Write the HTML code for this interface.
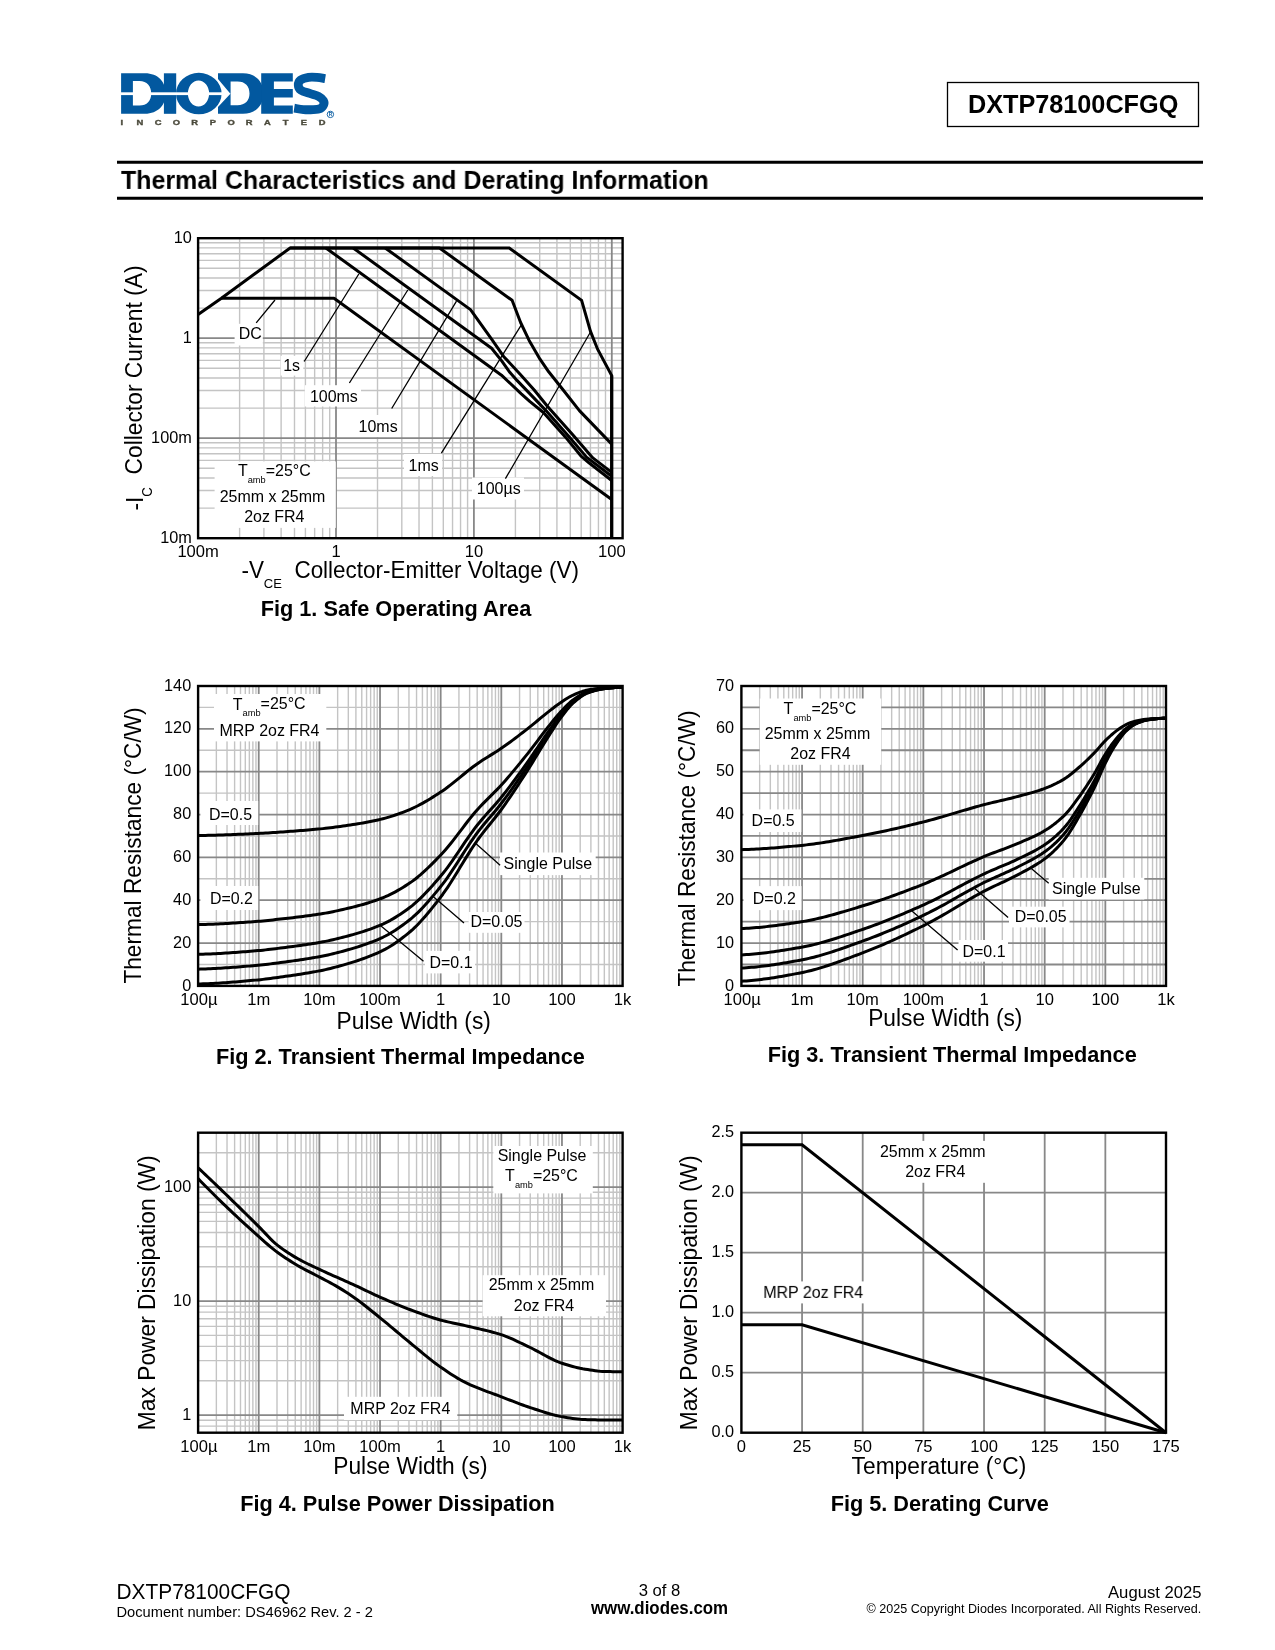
<!DOCTYPE html>
<html><head><meta charset="utf-8"><title>DXTP78100CFGQ</title>
<style>
html,body{margin:0;padding:0;background:#fff}
body{width:1275px;height:1650px;overflow:hidden}
svg{display:block;will-change:transform}
svg text{font-family:"Liberation Sans", sans-serif}
</style></head><body>
<svg width="1275" height="1650" viewBox="0 0 1275 1650">
<g id="header">
<rect x="947.5" y="82.5" width="251" height="44" fill="#fff" stroke="#000" stroke-width="1.3"/>
<text font-size="26.31" text-anchor="middle" font-weight="bold" transform="translate(1073.1 112.9) scale(0.96 1)">DXTP78100CFGQ</text>
<path d="M117 162.35H1203" stroke="#000" stroke-width="3"/>
<path d="M117 198.35H1203" stroke="#000" stroke-width="3"/>
<text font-size="26" font-weight="bold" transform="translate(121 188.9) scale(0.96 1)">Thermal Characteristics and Derating Information</text>
<text font-size="21.74" transform="translate(116.5 1599) scale(0.96 1)">DXTP78100CFGQ</text>
<text font-size="15.29" transform="translate(116.5 1616.7) scale(0.96 1)">Document number: DS46962 Rev. 2 - 2</text>
<text font-size="17.37" text-anchor="middle" transform="translate(659.5 1596) scale(0.96 1)">3 of 8</text>
<text font-size="17.58" text-anchor="middle" font-weight="bold" transform="translate(659.5 1613.7) scale(0.96 1)">www.diodes.com</text>
<text font-size="17.37" text-anchor="end" transform="translate(1201.6 1597.8) scale(0.96 1)">August 2025</text>
<text font-size="13.1" text-anchor="end" transform="translate(1201.3 1612.8) scale(0.96 1)">© 2025 Copyright Diodes Incorporated. All Rights Reserved.</text>
</g>
<g id="logo">
<path d="M121.1 73.3 H145 C158 73.3 165.8 82 165.8 93.55 C165.8 105 158 113.8 145 113.8 H121.1Z M132.9 81 H139.5 C147 81 151.2 86 151.2 93.55 C151.2 101 147 105.6 139.5 105.6 H132.9Z" fill="#02589f" fill-rule="evenodd"/>
<rect x="163.9" y="73.3" width="12.3" height="40.5" fill="#02589f"/>
<path d="M218 73.3 H243 C256 73.3 263.5 82 263.5 93.55 C263.5 105 256 113.8 243 113.8 H218 V106.9 L230.4 93.7 L218 79.1Z M230.6 81.5 H237.5 C245.3 81.5 249.5 86.3 249.5 93.55 C249.5 100.6 245.3 105.2 237.5 105.2 H230.6Z" fill="#02589f" fill-rule="evenodd"/>
<path d="M176 93.55 A22.8 20.7 0 1 0 221.6 93.55 A22.8 20.7 0 1 0 176 93.55 Z M187.9 93.55 A10.6 13 0 1 0 209.1 93.55 A10.6 13 0 1 0 187.9 93.55 Z" fill="#02589f" fill-rule="evenodd"/>
<path d="M261.2 73.3 H292.8 V81.6 H273.9 V89 H292.8 V97.5 H273.9 V105.5 H292.8 V113.8 H261.2Z" fill="#02589f"/>
<path d="M325.2 78.6C323.83 78.38 319.78 77.52 317 77.3C314.22 77.08 311.23 76.83 308.5 77.3C305.77 77.77 302.3 78.78 300.6 80.1C298.9 81.42 298.23 83.52 298.3 85.2C298.37 86.88 299.1 88.83 301 90.2C302.9 91.57 306.78 92.38 309.7 93.4C312.62 94.42 316.22 95.1 318.5 96.3C320.78 97.5 322.52 99.22 323.4 100.6C324.28 101.98 324.28 103.3 323.8 104.6C323.32 105.9 322.3 107.57 320.5 108.4C318.7 109.23 315.83 109.4 313 109.6C310.17 109.8 306.63 109.83 303.5 109.6C300.37 109.37 295.75 108.43 294.2 108.2" fill="none" stroke="#02589f" stroke-width="8.8"/>
<rect x="120.5" y="92.3" width="103.5" height="2.8" fill="#fff"/>
<circle cx="330.4" cy="114.4" r="3.2" fill="none" stroke="#02589f" stroke-width="0.9"/>
<text font-size="4.99" text-anchor="middle" font-weight="bold" fill="#02589f" transform="translate(330.4 116.2) scale(0.96 1)">R</text>
<text transform="translate(121.7 124.7) scale(1.25 1)" font-size="7.5" font-weight="bold" text-anchor="middle" fill="#4b4a3c" stroke="#4b4a3c" stroke-width="0.35">I</text>
<text transform="translate(139.92 124.7) scale(1.25 1)" font-size="7.5" font-weight="bold" text-anchor="middle" fill="#4b4a3c" stroke="#4b4a3c" stroke-width="0.35">N</text>
<text transform="translate(158.14 124.7) scale(1.25 1)" font-size="7.5" font-weight="bold" text-anchor="middle" fill="#4b4a3c" stroke="#4b4a3c" stroke-width="0.35">C</text>
<text transform="translate(176.36 124.7) scale(1.25 1)" font-size="7.5" font-weight="bold" text-anchor="middle" fill="#4b4a3c" stroke="#4b4a3c" stroke-width="0.35">O</text>
<text transform="translate(194.58 124.7) scale(1.25 1)" font-size="7.5" font-weight="bold" text-anchor="middle" fill="#4b4a3c" stroke="#4b4a3c" stroke-width="0.35">R</text>
<text transform="translate(212.8 124.7) scale(1.25 1)" font-size="7.5" font-weight="bold" text-anchor="middle" fill="#4b4a3c" stroke="#4b4a3c" stroke-width="0.35">P</text>
<text transform="translate(231.02 124.7) scale(1.25 1)" font-size="7.5" font-weight="bold" text-anchor="middle" fill="#4b4a3c" stroke="#4b4a3c" stroke-width="0.35">O</text>
<text transform="translate(249.24 124.7) scale(1.25 1)" font-size="7.5" font-weight="bold" text-anchor="middle" fill="#4b4a3c" stroke="#4b4a3c" stroke-width="0.35">R</text>
<text transform="translate(267.46 124.7) scale(1.25 1)" font-size="7.5" font-weight="bold" text-anchor="middle" fill="#4b4a3c" stroke="#4b4a3c" stroke-width="0.35">A</text>
<text transform="translate(285.68 124.7) scale(1.25 1)" font-size="7.5" font-weight="bold" text-anchor="middle" fill="#4b4a3c" stroke="#4b4a3c" stroke-width="0.35">T</text>
<text transform="translate(303.9 124.7) scale(1.25 1)" font-size="7.5" font-weight="bold" text-anchor="middle" fill="#4b4a3c" stroke="#4b4a3c" stroke-width="0.35">E</text>
<text transform="translate(322.12 124.7) scale(1.25 1)" font-size="7.5" font-weight="bold" text-anchor="middle" fill="#4b4a3c" stroke="#4b4a3c" stroke-width="0.35">D</text>
</g>
<g id="fig1">
<path d="M239.61 238.2L239.61 538.2M263.9 238.2L263.9 538.2M281.12 238.2L281.12 538.2M294.49 238.2L294.49 538.2M305.41 238.2L305.41 538.2M314.64 238.2L314.64 538.2M322.64 238.2L322.64 538.2M329.69 238.2L329.69 538.2M377.51 238.2L377.51 538.2M401.8 238.2L401.8 538.2M419.02 238.2L419.02 538.2M432.39 238.2L432.39 538.2M443.31 238.2L443.31 538.2M452.54 238.2L452.54 538.2M460.54 238.2L460.54 538.2M467.59 238.2L467.59 538.2M515.41 238.2L515.41 538.2M539.7 238.2L539.7 538.2M556.92 238.2L556.92 538.2M570.29 238.2L570.29 538.2M581.21 238.2L581.21 538.2M590.44 238.2L590.44 538.2M598.44 238.2L598.44 538.2M605.49 238.2L605.49 538.2M198.1 508.1L622.6 508.1M198.1 490.49L622.6 490.49M198.1 477.99L622.6 477.99M198.1 468.3L622.6 468.3M198.1 460.38L622.6 460.38M198.1 453.69L622.6 453.69M198.1 447.89L622.6 447.89M198.1 442.78L622.6 442.78M198.1 408.1L622.6 408.1M198.1 390.49L622.6 390.49M198.1 377.99L622.6 377.99M198.1 368.3L622.6 368.3M198.1 360.38L622.6 360.38M198.1 353.69L622.6 353.69M198.1 347.89L622.6 347.89M198.1 342.78L622.6 342.78M198.1 308.1L622.6 308.1M198.1 290.49L622.6 290.49M198.1 277.99L622.6 277.99M198.1 268.3L622.6 268.3M198.1 260.38L622.6 260.38M198.1 253.69L622.6 253.69M198.1 247.89L622.6 247.89M198.1 242.78L622.6 242.78" stroke="#c4c4c4" stroke-width="1.4" fill="none"/>
<path d="M336 238.2L336 538.2M473.9 238.2L473.9 538.2M611.8 238.2L611.8 538.2M198.1 438.2L622.6 438.2M198.1 338.2L622.6 338.2" stroke="#888888" stroke-width="1.8" fill="none"/>
<rect x="234.6" y="323.8" width="28.2" height="21.7" fill="#fff"/>
<rect x="280.7" y="355.8" width="22.6" height="19.8" fill="#fff"/>
<rect x="304.8" y="385.2" width="56.2" height="21.3" fill="#fff"/>
<rect x="354" y="415" width="47" height="22" fill="#fff"/>
<rect x="404" y="454" width="38" height="22" fill="#fff"/>
<rect x="472" y="477.5" width="52" height="22" fill="#fff"/>
<rect x="214.6" y="461.4" width="121.2" height="66.5" fill="#fff"/>
<path d="M275 300L256.2 322.9M358.8 274L304.2 361.5M407.8 290L349.4 383M456.5 301.2L391.7 408.5M522 323.8L441.4 453.1M590.5 332L505.4 478.7" stroke="#000" stroke-width="1.3" fill="none"/>
<path d="M221.4 298.2L334 298.2L611.7 499.43" stroke="#000" stroke-width="3" fill="none" stroke-linejoin="round" stroke-linecap="butt"/>
<path d="M325.9 248L501.5 375.2L521.3 393.8L530 401.6L543.4 412.5L565.3 436.9L580.8 455.8L588.6 462.5L611.7 480.5" stroke="#000" stroke-width="3" fill="none" stroke-linejoin="round" stroke-linecap="butt"/>
<path d="M353.2 248L491.6 348.3L501.5 360.6L510 372.6L517 380.4L530 393.9L545.5 410.1L569.5 437.2L586.5 457.1L611.7 476.2" stroke="#000" stroke-width="3" fill="none" stroke-linejoin="round" stroke-linecap="butt"/>
<path d="M385.2 248L470.5 309.6L492.3 340.2L503.6 356.4L520.6 374.7L534.2 390L547.6 406.5L572.3 434.3L592.8 457.9L611.7 472.4" stroke="#000" stroke-width="3" fill="none" stroke-linejoin="round" stroke-linecap="butt"/>
<path d="M290.1 248L439.5 248L512.1 300.3L520.6 322.5L529 340.2L540 359.2L548.7 371.8L563.2 390L579.4 410.6L611.7 444.1" stroke="#000" stroke-width="3" fill="none" stroke-linejoin="round" stroke-linecap="butt"/>
<path d="M198.1 314.4L221.4 298.2L290.1 248L509.2 248L581.6 300.3L590.5 331.4L597.6 349.2L611.7 375.6L611.7 538.2" stroke="#000" stroke-width="3" fill="none" stroke-linejoin="miter" stroke-linecap="butt"/>
<path d="M611.7 375.6L611.7 538.2" stroke="#000" stroke-width="3" fill="none" stroke-linejoin="round" stroke-linecap="butt"/>
<rect x="198.1" y="238.2" width="424.5" height="300" fill="none" stroke="#000" stroke-width="2.4"/>
<text font-size="16.64" transform="translate(238.7 339.4) scale(0.96 1)">DC</text>
<text font-size="16.64" transform="translate(283.2 371.4) scale(0.96 1)">1s</text>
<text font-size="16.64" transform="translate(309.9 402.1) scale(0.96 1)">100ms</text>
<text font-size="16.64" transform="translate(358.6 431.8) scale(0.96 1)">10ms</text>
<text font-size="16.64" transform="translate(408.6 470.7) scale(0.96 1)">1ms</text>
<text font-size="16.64" transform="translate(476.8 494) scale(0.96 1)">100µs</text>
<text font-size="16.64" text-anchor="middle" transform="translate(274.3 476.2) scale(0.96 1)">T<tspan font-size="58%" dy="0.72em">amb</tspan><tspan dy="-0.42em">=25°C</tspan></text>
<text font-size="16.64" text-anchor="middle" transform="translate(272.5 501.7) scale(0.96 1)">25mm x 25mm</text>
<text font-size="16.64" text-anchor="middle" transform="translate(274.3 521.6) scale(0.96 1)">2oz FR4</text>
<text font-size="16.95" text-anchor="end" transform="translate(191.8 242.5) scale(0.96 1)">10</text>
<text font-size="16.95" text-anchor="end" transform="translate(191.8 342.5) scale(0.96 1)">1</text>
<text font-size="16.95" text-anchor="end" transform="translate(191.8 442.5) scale(0.96 1)">100m</text>
<text font-size="16.95" text-anchor="end" transform="translate(191.8 542.5) scale(0.96 1)">10m</text>
<text font-size="17.26" text-anchor="middle" transform="translate(198.1 557.3) scale(0.96 1)">100m</text>
<text font-size="17.26" text-anchor="middle" transform="translate(336 557.3) scale(0.96 1)">1</text>
<text font-size="17.26" text-anchor="middle" transform="translate(473.9 557.3) scale(0.96 1)">10</text>
<text font-size="17.26" text-anchor="middle" transform="translate(611.8 557.3) scale(0.96 1)">100</text>
<text font-size="23.4" transform="translate(241.4 577.8) scale(0.96 1)" xml:space="preserve">-V<tspan font-size="58%" dy="0.72em">CE</tspan><tspan dy="-0.42em">  Collector-Emitter Voltage (V)</tspan></text>
<text font-size="22.8" transform="translate(142.5 510.6) scale(1.04 1) rotate(-90)" xml:space="preserve">-I<tspan font-size="58%" dy="0.72em">C</tspan><tspan dy="-0.42em">  Collector Current (A)</tspan></text>
<text font-size="22.62" text-anchor="middle" font-weight="bold" transform="translate(396 616.3) scale(0.96 1)">Fig 1. Safe Operating Area</text>
</g>
<g id="fig2">
<path d="M216.36 686L216.36 985.9M227.03 686L227.03 985.9M234.61 686L234.61 985.9M240.49 686L240.49 985.9M245.29 686L245.29 985.9M249.35 686L249.35 985.9M252.87 686L252.87 985.9M255.97 686L255.97 985.9M277 686L277 985.9M287.68 686L287.68 985.9M295.25 686L295.25 985.9M301.13 686L301.13 985.9M305.93 686L305.93 985.9M309.99 686L309.99 985.9M313.51 686L313.51 985.9M316.61 686L316.61 985.9M337.64 686L337.64 985.9M348.32 686L348.32 985.9M355.9 686L355.9 985.9M361.77 686L361.77 985.9M366.58 686L366.58 985.9M370.63 686L370.63 985.9M374.15 686L374.15 985.9M377.25 686L377.25 985.9M398.28 686L398.28 985.9M408.96 686L408.96 985.9M416.54 686L416.54 985.9M422.42 686L422.42 985.9M427.22 686L427.22 985.9M431.28 686L431.28 985.9M434.79 686L434.79 985.9M437.9 686L437.9 985.9M458.93 686L458.93 985.9M469.61 686L469.61 985.9M477.18 686L477.18 985.9M483.06 686L483.06 985.9M487.86 686L487.86 985.9M491.92 686L491.92 985.9M495.44 686L495.44 985.9M498.54 686L498.54 985.9M519.57 686L519.57 985.9M530.25 686L530.25 985.9M537.82 686L537.82 985.9M543.7 686L543.7 985.9M548.5 686L548.5 985.9M552.56 686L552.56 985.9M556.08 686L556.08 985.9M559.18 686L559.18 985.9M580.21 686L580.21 985.9M590.89 686L590.89 985.9M598.47 686L598.47 985.9M604.34 686L604.34 985.9M609.15 686L609.15 985.9M613.21 686L613.21 985.9M616.72 686L616.72 985.9M619.83 686L619.83 985.9M198.1 964.48L622.6 964.48M198.1 921.64L622.6 921.64M198.1 878.79L622.6 878.79M198.1 835.95L622.6 835.95M198.1 793.11L622.6 793.11M198.1 750.26L622.6 750.26M198.1 707.42L622.6 707.42" stroke="#c4c4c4" stroke-width="1.4" fill="none"/>
<path d="M258.74 686L258.74 985.9M319.39 686L319.39 985.9M380.03 686L380.03 985.9M440.67 686L440.67 985.9M501.31 686L501.31 985.9M561.96 686L561.96 985.9M198.1 943.06L622.6 943.06M198.1 900.21L622.6 900.21M198.1 857.37L622.6 857.37M198.1 814.53L622.6 814.53M198.1 771.69L622.6 771.69M198.1 728.84L622.6 728.84" stroke="#888888" stroke-width="1.8" fill="none"/>
<rect x="214" y="694" width="112.3" height="47.4" fill="#fff"/>
<rect x="200.4" y="801" width="57.8" height="24" fill="#fff"/>
<rect x="200.4" y="886" width="57.8" height="24" fill="#fff"/>
<rect x="500" y="852.5" width="95.7" height="22.6" fill="#fff"/>
<rect x="468.6" y="912" width="55.9" height="20.8" fill="#fff"/>
<rect x="425" y="950.9" width="50" height="22.5" fill="#fff"/>
<path d="M475.8 843.5L500.1 865.2M433.4 896.8L464 922.9M380.7 925.8L423.5 961.3" stroke="#000" stroke-width="1.3" fill="none"/>
<path d="M198.1 984L200.6 983.93L203.09 983.85L205.59 983.75L208.09 983.65L210.59 983.53L213.08 983.41L215.58 983.27L218.08 983.13L220.57 982.97L223.07 982.81L225.57 982.64L228.06 982.46L230.56 982.27L233.06 982.08L235.56 981.88L238.05 981.68L240.55 981.47L243.05 981.25L245.54 981.03L248.04 980.81L250.54 980.58L253.04 980.36L255.53 980.12L258.03 979.89L260.53 979.65L263.02 979.38L265.52 979.08L268.02 978.77L270.51 978.44L273.01 978.09L275.51 977.75L278.01 977.4L280.5 977.06L283 976.71L285.5 976.36L287.99 976.01L290.49 975.65L292.99 975.28L295.49 974.91L297.98 974.54L300.48 974.15L302.98 973.76L305.47 973.35L307.97 972.94L310.47 972.51L312.96 972.07L315.46 971.62L317.96 971.15L320.46 970.67L322.95 970.16L325.45 969.62L327.95 969.05L330.44 968.44L332.94 967.81L335.44 967.15L337.94 966.47L340.43 965.78L342.93 965.08L345.43 964.37L347.92 963.64L350.42 962.89L352.92 962.12L355.41 961.32L357.91 960.5L360.41 959.66L362.91 958.79L365.4 957.88L367.9 956.94L370.4 955.97L372.89 954.95L375.39 953.9L377.89 952.8L380.39 951.66L382.88 950.44L385.38 949.13L387.88 947.73L390.37 946.23L392.87 944.65L395.37 942.99L397.86 941.25L400.36 939.44L402.86 937.55L405.36 935.6L407.85 933.58L410.35 931.5L412.85 929.3L415.34 926.94L417.84 924.45L420.34 921.82L422.84 919.07L425.33 916.22L427.83 913.27L430.33 910.25L432.82 907.15L435.32 904L437.82 900.8L440.31 897.57L442.81 894.24L445.31 890.72L447.81 887.04L450.3 883.22L452.8 879.28L455.3 875.26L457.79 871.18L460.29 867.08L462.79 862.97L465.29 858.88L467.78 854.85L470.28 850.89L472.78 847.04L475.27 843.32L477.77 839.76L480.27 836.37L482.76 833.1L485.26 829.92L487.76 826.8L490.26 823.72L492.75 820.62L495.25 817.49L497.75 814.29L500.24 810.98L502.74 807.54L505.24 804.03L507.74 800.44L510.23 796.8L512.73 793.11L515.23 789.37L517.72 785.59L520.22 781.78L522.72 777.94L525.21 774.08L527.71 770.19L530.21 766.22L532.71 762.16L535.2 758.06L537.7 753.93L540.2 749.8L542.69 745.69L545.19 741.63L547.69 737.64L550.19 733.75L552.68 729.87L555.18 726.03L557.68 722.28L560.17 718.7L562.67 715.35L565.17 712.08L567.66 708.93L570.16 706.03L572.66 703.49L575.16 701.29L577.65 699.2L580.15 697.26L582.65 695.54L585.14 694.1L587.64 692.98L590.14 692.09L592.64 691.28L595.13 690.55L597.63 689.91L600.13 689.37L602.62 688.92L605.12 688.57L607.62 688.29L610.11 688.03L612.61 687.8L615.11 687.6L617.61 687.44L620.1 687.34L622.6 687.3" stroke="#000" stroke-width="3" fill="none" stroke-linejoin="round" stroke-linecap="butt"/>
<path d="M198.1 969.15L200.6 969.09L203.09 969.01L205.59 968.92L208.09 968.82L210.59 968.71L213.08 968.59L215.58 968.46L218.08 968.32L220.57 968.18L223.07 968.02L225.57 967.86L228.06 967.69L230.56 967.51L233.06 967.33L235.56 967.14L238.05 966.95L240.55 966.75L243.05 966.54L245.54 966.34L248.04 966.12L250.54 965.91L253.04 965.69L255.53 965.47L258.03 965.25L260.53 965.02L263.02 964.76L265.52 964.48L268.02 964.18L270.51 963.87L273.01 963.54L275.51 963.21L278.01 962.89L280.5 962.56L283 962.23L285.5 961.9L287.99 961.56L290.49 961.22L292.99 960.87L295.49 960.52L297.98 960.16L300.48 959.8L302.98 959.42L305.47 959.04L307.97 958.64L310.47 958.24L312.96 957.82L315.46 957.39L317.96 956.95L320.46 956.49L322.95 956.01L325.45 955.49L327.95 954.95L330.44 954.37L332.94 953.77L335.44 953.15L337.94 952.5L340.43 951.85L342.93 951.18L345.43 950.5L347.92 949.81L350.42 949.09L352.92 948.36L355.41 947.61L357.91 946.83L360.41 946.03L362.91 945.2L365.4 944.34L367.9 943.45L370.4 942.52L372.89 941.56L375.39 940.56L377.89 939.51L380.39 938.43L382.88 937.28L385.38 936.03L387.88 934.7L390.37 933.28L392.87 931.78L395.37 930.2L397.86 928.54L400.36 926.82L402.86 925.03L405.36 923.17L407.85 921.26L410.35 919.28L412.85 917.19L415.34 914.95L417.84 912.58L420.34 910.08L422.84 907.47L425.33 904.76L427.83 901.96L430.33 899.09L432.82 896.15L435.32 893.15L437.82 890.12L440.31 887.05L442.81 883.88L445.31 880.54L447.81 877.04L450.3 873.41L452.8 869.67L455.3 865.85L457.79 861.98L460.29 858.08L462.79 854.17L465.29 850.29L467.78 846.46L470.28 842.7L472.78 839.04L475.27 835.51L477.77 832.13L480.27 828.9L482.76 825.79L485.26 822.78L487.76 819.82L490.26 816.88L492.75 813.95L495.25 810.97L497.75 807.93L500.24 804.78L502.74 801.52L505.24 798.18L507.74 794.78L510.23 791.32L512.73 787.81L515.23 784.26L517.72 780.67L520.22 777.04L522.72 773.4L525.21 769.73L527.71 766.04L530.21 762.26L532.71 758.41L535.2 754.51L537.7 750.58L540.2 746.66L542.69 742.76L545.19 738.9L547.69 735.11L550.19 731.42L552.68 727.73L555.18 724.08L557.68 720.52L560.17 717.12L562.67 713.94L565.17 710.83L567.66 707.84L570.16 705.08L572.66 702.67L575.16 700.58L577.65 698.59L580.15 696.75L582.65 695.12L585.14 693.74L587.64 692.69L590.14 691.84L592.64 691.07L595.13 690.38L597.63 689.77L600.13 689.25L602.62 688.82L605.12 688.49L607.62 688.23L610.11 687.98L612.61 687.76L615.11 687.57L617.61 687.42L620.1 687.32L622.6 687.29" stroke="#000" stroke-width="3" fill="none" stroke-linejoin="round" stroke-linecap="butt"/>
<path d="M198.1 954.31L200.6 954.24L203.09 954.17L205.59 954.09L208.09 953.99L210.59 953.89L213.08 953.77L215.58 953.65L218.08 953.52L220.57 953.38L223.07 953.23L225.57 953.08L228.06 952.92L230.56 952.75L233.06 952.58L235.56 952.4L238.05 952.22L240.55 952.03L243.05 951.83L245.54 951.64L248.04 951.44L250.54 951.23L253.04 951.03L255.53 950.82L258.03 950.61L260.53 950.39L263.02 950.15L265.52 949.88L268.02 949.6L270.51 949.3L273.01 948.99L275.51 948.68L278.01 948.37L280.5 948.06L283 947.75L285.5 947.43L287.99 947.11L290.49 946.79L292.99 946.46L295.49 946.13L297.98 945.79L300.48 945.44L302.98 945.09L305.47 944.72L307.97 944.35L310.47 943.97L312.96 943.57L315.46 943.16L317.96 942.75L320.46 942.31L322.95 941.85L325.45 941.36L327.95 940.85L330.44 940.3L332.94 939.74L335.44 939.14L337.94 938.53L340.43 937.91L342.93 937.28L345.43 936.64L347.92 935.98L350.42 935.3L352.92 934.61L355.41 933.9L357.91 933.16L360.41 932.4L362.91 931.61L365.4 930.8L367.9 929.95L370.4 929.08L372.89 928.16L375.39 927.22L377.89 926.23L380.39 925.2L382.88 924.11L385.38 922.93L387.88 921.66L390.37 920.32L392.87 918.9L395.37 917.4L397.86 915.84L400.36 914.2L402.86 912.51L405.36 910.75L407.85 908.93L410.35 907.06L412.85 905.08L415.34 902.96L417.84 900.71L420.34 898.34L422.84 895.87L425.33 893.3L427.83 890.65L430.33 887.93L432.82 885.14L435.32 882.31L437.82 879.43L440.31 876.52L442.81 873.53L445.31 870.36L447.81 867.04L450.3 863.6L452.8 860.06L455.3 856.44L457.79 852.77L460.29 849.08L462.79 845.38L465.29 841.7L467.78 838.07L470.28 834.51L472.78 831.04L475.27 827.7L477.77 824.49L480.27 821.44L482.76 818.49L485.26 815.63L487.76 812.83L490.26 810.05L492.75 807.27L495.25 804.45L497.75 801.56L500.24 798.59L502.74 795.49L505.24 792.33L507.74 789.11L510.23 785.83L512.73 782.51L515.23 779.14L517.72 775.74L520.22 772.31L522.72 768.85L525.21 765.38L527.71 761.88L530.21 758.3L532.71 754.65L535.2 750.96L537.7 747.24L540.2 743.52L542.69 739.83L545.19 736.17L547.69 732.58L550.19 729.08L552.68 725.59L555.18 722.13L557.68 718.76L560.17 715.54L562.67 712.52L565.17 709.58L567.66 706.75L570.16 704.13L572.66 701.85L575.16 699.87L577.65 697.99L580.15 696.24L582.65 694.69L585.14 693.39L587.64 692.39L590.14 691.59L592.64 690.86L595.13 690.21L597.63 689.63L600.13 689.14L602.62 688.73L605.12 688.42L607.62 688.17L610.11 687.94L612.61 687.72L615.11 687.54L617.61 687.4L620.1 687.31L622.6 687.28" stroke="#000" stroke-width="3" fill="none" stroke-linejoin="round" stroke-linecap="butt"/>
<path d="M198.1 924.61L200.6 924.56L203.09 924.49L205.59 924.42L208.09 924.33L210.59 924.24L213.08 924.14L215.58 924.03L218.08 923.91L220.57 923.79L223.07 923.66L225.57 923.52L228.06 923.38L230.56 923.23L233.06 923.08L235.56 922.92L238.05 922.76L240.55 922.59L243.05 922.42L245.54 922.24L248.04 922.06L250.54 921.88L253.04 921.7L255.53 921.51L258.03 921.33L260.53 921.13L263.02 920.92L265.52 920.68L268.02 920.43L270.51 920.16L273.01 919.89L275.51 919.61L278.01 919.34L280.5 919.06L283 918.78L285.5 918.5L287.99 918.22L290.49 917.93L292.99 917.64L295.49 917.35L297.98 917.04L300.48 916.74L302.98 916.42L305.47 916.1L307.97 915.76L310.47 915.42L312.96 915.07L315.46 914.71L317.96 914.34L320.46 913.95L322.95 913.54L325.45 913.11L327.95 912.65L330.44 912.17L332.94 911.66L335.44 911.14L337.94 910.59L340.43 910.04L342.93 909.48L345.43 908.91L347.92 908.32L350.42 907.72L352.92 907.11L355.41 906.47L357.91 905.82L360.41 905.14L362.91 904.44L365.4 903.72L367.9 902.97L370.4 902.19L372.89 901.38L375.39 900.53L377.89 899.66L380.39 898.74L382.88 897.77L385.38 896.72L387.88 895.6L390.37 894.4L392.87 893.14L395.37 891.81L397.86 890.42L400.36 888.97L402.86 887.46L405.36 885.89L407.85 884.28L410.35 882.62L412.85 880.86L415.34 878.97L417.84 876.97L420.34 874.87L422.84 872.67L425.33 870.39L427.83 868.03L430.33 865.61L432.82 863.14L435.32 860.61L437.82 858.06L440.31 855.47L442.81 852.81L445.31 849.99L447.81 847.05L450.3 843.99L452.8 840.84L455.3 837.62L457.79 834.36L460.29 831.08L462.79 827.79L465.29 824.52L467.78 821.29L470.28 818.13L472.78 815.05L475.27 812.07L477.77 809.22L480.27 806.51L482.76 803.89L485.26 801.35L487.76 798.86L490.26 796.39L492.75 793.91L495.25 791.41L497.75 788.84L500.24 786.2L502.74 783.45L505.24 780.63L507.74 777.77L510.23 774.86L512.73 771.9L515.23 768.91L517.72 765.89L520.22 762.84L522.72 759.77L525.21 756.68L527.71 753.57L530.21 750.39L532.71 747.14L535.2 743.86L537.7 740.56L540.2 737.25L542.69 733.96L545.19 730.72L547.69 727.53L550.19 724.41L552.68 721.31L555.18 718.23L557.68 715.24L560.17 712.38L562.67 709.7L565.17 707.08L567.66 704.56L570.16 702.24L572.66 700.21L575.16 698.45L577.65 696.77L580.15 695.22L582.65 693.85L585.14 692.69L587.64 691.8L590.14 691.09L592.64 690.44L595.13 689.86L597.63 689.35L600.13 688.91L602.62 688.55L605.12 688.27L607.62 688.05L610.11 687.84L612.61 687.65L615.11 687.49L617.61 687.36L620.1 687.28L622.6 687.25" stroke="#000" stroke-width="3" fill="none" stroke-linejoin="round" stroke-linecap="butt"/>
<path d="M198.1 835.54L200.6 835.5L203.09 835.46L205.59 835.41L208.09 835.36L210.59 835.3L213.08 835.24L215.58 835.17L218.08 835.1L220.57 835.02L223.07 834.94L225.57 834.85L228.06 834.76L230.56 834.67L233.06 834.58L235.56 834.48L238.05 834.37L240.55 834.27L243.05 834.16L245.54 834.05L248.04 833.94L250.54 833.83L253.04 833.71L255.53 833.6L258.03 833.48L260.53 833.36L263.02 833.23L265.52 833.08L268.02 832.92L270.51 832.75L273.01 832.58L275.51 832.41L278.01 832.24L280.5 832.06L283 831.89L285.5 831.72L287.99 831.54L290.49 831.36L292.99 831.18L295.49 830.99L297.98 830.8L300.48 830.61L302.98 830.41L305.47 830.21L307.97 830L310.47 829.79L312.96 829.57L315.46 829.35L317.96 829.11L320.46 828.87L322.95 828.62L325.45 828.34L327.95 828.06L330.44 827.76L332.94 827.44L335.44 827.11L337.94 826.77L340.43 826.43L342.93 826.08L345.43 825.72L347.92 825.35L350.42 824.98L352.92 824.59L355.41 824.2L357.91 823.79L360.41 823.37L362.91 822.93L365.4 822.48L367.9 822.01L370.4 821.52L372.89 821.01L375.39 820.48L377.89 819.94L380.39 819.37L382.88 818.76L385.38 818.1L387.88 817.4L390.37 816.65L392.87 815.86L395.37 815.03L397.86 814.16L400.36 813.26L402.86 812.31L405.36 811.34L407.85 810.33L410.35 809.29L412.85 808.19L415.34 807.01L417.84 805.76L420.34 804.44L422.84 803.07L425.33 801.65L427.83 800.17L430.33 798.66L432.82 797.11L435.32 795.54L437.82 793.94L440.31 792.32L442.81 790.66L445.31 788.9L447.81 787.06L450.3 785.14L452.8 783.18L455.3 781.17L457.79 779.13L460.29 777.07L462.79 775.02L465.29 772.98L467.78 770.96L470.28 768.98L472.78 767.06L475.27 765.2L477.77 763.42L480.27 761.72L482.76 760.08L485.26 758.5L487.76 756.94L490.26 755.39L492.75 753.85L495.25 752.28L497.75 750.68L500.24 749.02L502.74 747.31L505.24 745.55L507.74 743.76L510.23 741.94L512.73 740.09L515.23 738.22L517.72 736.33L520.22 734.43L522.72 732.51L525.21 730.58L527.71 728.63L530.21 726.64L532.71 724.62L535.2 722.56L537.7 720.5L540.2 718.43L542.69 716.38L545.19 714.35L547.69 712.36L550.19 710.41L552.68 708.47L555.18 706.55L557.68 704.67L560.17 702.89L562.67 701.21L565.17 699.58L567.66 698L570.16 696.55L572.66 695.28L575.16 694.18L577.65 693.13L580.15 692.17L582.65 691.31L585.14 690.58L587.64 690.03L590.14 689.58L592.64 689.18L595.13 688.81L597.63 688.49L600.13 688.22L602.62 687.99L605.12 687.82L607.62 687.68L610.11 687.55L612.61 687.43L615.11 687.33L617.61 687.25L620.1 687.2L622.6 687.19" stroke="#000" stroke-width="3" fill="none" stroke-linejoin="round" stroke-linecap="butt"/>
<rect x="198.1" y="686" width="424.5" height="299.9" fill="none" stroke="#000" stroke-width="2.4"/>
<text font-size="16.64" text-anchor="middle" transform="translate(269.2 709.5) scale(0.96 1)">T<tspan font-size="58%" dy="0.72em">amb</tspan><tspan dy="-0.42em">=25°C</tspan></text>
<text font-size="16.64" text-anchor="middle" transform="translate(269.5 735.8) scale(0.96 1)">MRP 2oz FR4</text>
<text font-size="16.64" transform="translate(209 819.5) scale(0.96 1)">D=0.5</text>
<text font-size="16.64" transform="translate(209.9 904) scale(0.96 1)">D=0.2</text>
<text font-size="16.64" transform="translate(503.5 869) scale(0.96 1)">Single Pulse</text>
<text font-size="16.64" transform="translate(470.5 927) scale(0.96 1)">D=0.05</text>
<text font-size="16.64" transform="translate(429.5 968) scale(0.96 1)">D=0.1</text>
<text font-size="16.95" text-anchor="end" transform="translate(191.2 990.5) scale(0.96 1)">0</text>
<text font-size="16.95" text-anchor="end" transform="translate(191.2 947.66) scale(0.96 1)">20</text>
<text font-size="16.95" text-anchor="end" transform="translate(191.2 904.81) scale(0.96 1)">40</text>
<text font-size="16.95" text-anchor="end" transform="translate(191.2 861.97) scale(0.96 1)">60</text>
<text font-size="16.95" text-anchor="end" transform="translate(191.2 819.13) scale(0.96 1)">80</text>
<text font-size="16.95" text-anchor="end" transform="translate(191.2 776.29) scale(0.96 1)">100</text>
<text font-size="16.95" text-anchor="end" transform="translate(191.2 733.44) scale(0.96 1)">120</text>
<text font-size="16.95" text-anchor="end" transform="translate(191.2 690.6) scale(0.96 1)">140</text>
<text font-size="17.26" text-anchor="middle" transform="translate(198.9 1005.1) scale(0.96 1)">100µ</text>
<text font-size="17.26" text-anchor="middle" transform="translate(258.74 1005.1) scale(0.96 1)">1m</text>
<text font-size="17.26" text-anchor="middle" transform="translate(319.39 1005.1) scale(0.96 1)">10m</text>
<text font-size="17.26" text-anchor="middle" transform="translate(380.03 1005.1) scale(0.96 1)">100m</text>
<text font-size="17.26" text-anchor="middle" transform="translate(440.67 1005.1) scale(0.96 1)">1</text>
<text font-size="17.26" text-anchor="middle" transform="translate(501.31 1005.1) scale(0.96 1)">10</text>
<text font-size="17.26" text-anchor="middle" transform="translate(561.96 1005.1) scale(0.96 1)">100</text>
<text font-size="17.26" text-anchor="middle" transform="translate(622.6 1005.1) scale(0.96 1)">1k</text>
<text font-size="23.71" text-anchor="middle" transform="translate(413.7 1028.6) scale(0.96 1)">Pulse Width (s)</text>
<text font-size="22.7" transform="translate(141.3 983.6) scale(1.04 1) rotate(-90)">Thermal Resistance (°C/W)</text>
<text font-size="22.62" text-anchor="middle" font-weight="bold" transform="translate(400.4 1064.3) scale(0.96 1)">Fig 2. Transient Thermal Impedance</text>
</g>
<g id="fig3">
<path d="M759.66 686L759.66 985.9M770.34 686L770.34 985.9M777.92 686L777.92 985.9M783.8 686L783.8 985.9M788.6 686L788.6 985.9M792.66 686L792.66 985.9M796.18 686L796.18 985.9M799.28 686L799.28 985.9M820.32 686L820.32 985.9M831 686L831 985.9M838.58 686L838.58 985.9M844.45 686L844.45 985.9M849.26 686L849.26 985.9M853.32 686L853.32 985.9M856.84 686L856.84 985.9M859.94 686L859.94 985.9M880.97 686L880.97 985.9M891.66 686L891.66 985.9M899.23 686L899.23 985.9M905.11 686L905.11 985.9M909.91 686L909.91 985.9M913.98 686L913.98 985.9M917.49 686L917.49 985.9M920.6 686L920.6 985.9M941.63 686L941.63 985.9M952.31 686L952.31 985.9M959.89 686L959.89 985.9M965.77 686L965.77 985.9M970.57 686L970.57 985.9M974.63 686L974.63 985.9M978.15 686L978.15 985.9M981.25 686L981.25 985.9M1002.29 686L1002.29 985.9M1012.97 686L1012.97 985.9M1020.55 686L1020.55 985.9M1026.43 686L1026.43 985.9M1031.23 686L1031.23 985.9M1035.29 686L1035.29 985.9M1038.81 686L1038.81 985.9M1041.91 686L1041.91 985.9M1062.95 686L1062.95 985.9M1073.63 686L1073.63 985.9M1081.2 686L1081.2 985.9M1087.08 686L1087.08 985.9M1091.89 686L1091.89 985.9M1095.95 686L1095.95 985.9M1099.46 686L1099.46 985.9M1102.57 686L1102.57 985.9M1123.6 686L1123.6 985.9M1134.28 686L1134.28 985.9M1141.86 686L1141.86 985.9M1147.74 686L1147.74 985.9M1152.54 686L1152.54 985.9M1156.6 686L1156.6 985.9M1160.12 686L1160.12 985.9M1163.22 686L1163.22 985.9" stroke="#c4c4c4" stroke-width="1.4" fill="none"/>
<path d="M802.06 686L802.06 985.9M862.71 686L862.71 985.9M923.37 686L923.37 985.9M984.03 686L984.03 985.9M1044.69 686L1044.69 985.9M1105.34 686L1105.34 985.9M741.4 964.48L1166 964.48M741.4 943.06L1166 943.06M741.4 921.64L1166 921.64M741.4 900.21L1166 900.21M741.4 878.79L1166 878.79M741.4 857.37L1166 857.37M741.4 835.95L1166 835.95M741.4 814.53L1166 814.53M741.4 793.11L1166 793.11M741.4 771.69L1166 771.69M741.4 750.26L1166 750.26M741.4 728.84L1166 728.84M741.4 707.42L1166 707.42" stroke="#888888" stroke-width="1.8" fill="none"/>
<rect x="759.8" y="698.5" width="121.4" height="66.3" fill="#fff"/>
<rect x="743.5" y="809.4" width="57.8" height="22.6" fill="#fff"/>
<rect x="743.5" y="886.1" width="58" height="24" fill="#fff"/>
<rect x="1048.7" y="877.8" width="95.6" height="21.7" fill="#fff"/>
<rect x="1009" y="906.7" width="60.5" height="20.7" fill="#fff"/>
<rect x="958.5" y="940" width="49.5" height="21.7" fill="#fff"/>
<path d="M1031.6 868.8L1048.7 883.2M974.8 888.6L1008.1 917.5M912.2 911.2L957.6 950" stroke="#000" stroke-width="1.3" fill="none"/>
<path d="M741.4 981.2L743.9 981.06L746.4 980.89L748.89 980.7L751.39 980.48L753.89 980.25L756.39 979.99L758.88 979.71L761.38 979.41L763.88 979.09L766.38 978.75L768.87 978.4L771.37 978.03L773.87 977.65L776.37 977.25L778.86 976.84L781.36 976.41L783.86 975.98L786.36 975.53L788.86 975.07L791.35 974.61L793.85 974.13L796.35 973.65L798.85 973.16L801.34 972.67L803.84 972.16L806.34 971.62L808.84 971.04L811.33 970.42L813.83 969.77L816.33 969.08L818.83 968.37L821.32 967.62L823.82 966.85L826.32 966.05L828.82 965.23L831.32 964.39L833.81 963.53L836.31 962.66L838.81 961.76L841.31 960.86L843.8 959.94L846.3 959.01L848.8 958.07L851.3 957.13L853.79 956.19L856.29 955.24L858.79 954.29L861.29 953.35L863.78 952.4L866.28 951.45L868.78 950.47L871.28 949.48L873.78 948.48L876.27 947.45L878.77 946.41L881.27 945.36L883.77 944.29L886.26 943.21L888.76 942.11L891.26 941L893.76 939.88L896.25 938.74L898.75 937.59L901.25 936.43L903.75 935.26L906.24 934.08L908.74 932.88L911.24 931.68L913.74 930.47L916.24 929.25L918.73 928.02L921.23 926.78L923.73 925.54L926.23 924.27L928.72 922.96L931.22 921.63L933.72 920.27L936.22 918.88L938.71 917.48L941.21 916.07L943.71 914.64L946.21 913.2L948.7 911.72L951.2 910.21L953.7 908.69L956.2 907.17L958.7 905.67L961.19 904.2L963.69 902.73L966.19 901.26L968.69 899.79L971.18 898.34L973.68 896.9L976.18 895.47L978.68 894.07L981.17 892.7L983.67 891.37L986.17 890.07L988.67 888.82L991.16 887.6L993.66 886.41L996.16 885.24L998.66 884.08L1001.16 882.93L1003.65 881.77L1006.15 880.6L1008.65 879.41L1011.15 878.2L1013.64 876.95L1016.14 875.66L1018.64 874.33L1021.14 873.01L1023.63 871.69L1026.13 870.35L1028.63 868.99L1031.13 867.59L1033.62 866.14L1036.12 864.63L1038.62 863.05L1041.12 861.39L1043.62 859.62L1046.11 857.75L1048.61 855.74L1051.11 853.59L1053.61 851.3L1056.1 848.86L1058.6 846.26L1061.1 843.52L1063.6 840.61L1066.09 837.44L1068.59 833.87L1071.09 829.98L1073.59 825.87L1076.08 821.63L1078.58 817.36L1081.08 813.02L1083.58 808.53L1086.08 803.91L1088.57 799.14L1091.07 794.25L1093.57 789.22L1096.07 783.99L1098.56 778.29L1101.06 772.44L1103.56 766.81L1106.06 761.71L1108.55 756.91L1111.05 752.34L1113.55 748.05L1116.05 744.12L1118.54 740.48L1121.04 737.02L1123.54 733.85L1126.04 731.1L1128.54 728.84L1131.03 726.83L1133.53 725.12L1136.03 723.78L1138.53 722.7L1141.02 721.74L1143.52 720.9L1146.02 720.23L1148.52 719.75L1151.01 719.42L1153.51 719.12L1156.01 718.85L1158.51 718.62L1161 718.45L1163.5 718.34L1166 718.3" stroke="#000" stroke-width="3" fill="none" stroke-linejoin="round" stroke-linecap="butt"/>
<path d="M741.4 968.05L743.9 967.91L746.4 967.75L748.89 967.57L751.39 967.37L753.89 967.14L756.39 966.89L758.88 966.63L761.38 966.34L763.88 966.04L766.38 965.72L768.87 965.39L771.37 965.04L773.87 964.67L776.37 964.29L778.86 963.9L781.36 963.5L783.86 963.08L786.36 962.66L788.86 962.22L791.35 961.78L793.85 961.33L796.35 960.87L798.85 960.41L801.34 959.94L803.84 959.46L806.34 958.95L808.84 958.39L811.33 957.81L813.83 957.19L816.33 956.54L818.83 955.86L821.32 955.15L823.82 954.42L826.32 953.66L828.82 952.88L831.32 952.08L833.81 951.26L836.31 950.43L838.81 949.58L841.31 948.72L843.8 947.85L846.3 946.97L848.8 946.08L851.3 945.18L853.79 944.28L856.29 943.38L858.79 942.48L861.29 941.59L863.78 940.69L866.28 939.78L868.78 938.86L871.28 937.92L873.78 936.96L876.27 935.99L878.77 935L881.27 934L883.77 932.98L886.26 931.95L888.76 930.91L891.26 929.86L893.76 928.79L896.25 927.71L898.75 926.62L901.25 925.52L903.75 924.4L906.24 923.28L908.74 922.15L911.24 921L913.74 919.85L916.24 918.69L918.73 917.52L921.23 916.35L923.73 915.17L926.23 913.96L928.72 912.72L931.22 911.45L933.72 910.16L936.22 908.85L938.71 907.51L941.21 906.17L943.71 904.81L946.21 903.45L948.7 902.04L951.2 900.61L953.7 899.16L956.2 897.72L958.7 896.29L961.19 894.9L963.69 893.5L966.19 892.1L968.69 890.71L971.18 889.33L973.68 887.96L976.18 886.61L978.68 885.28L981.17 883.98L983.67 882.71L986.17 881.48L988.67 880.29L991.16 879.13L993.66 878L996.16 876.89L998.66 875.79L1001.16 874.69L1003.65 873.59L1006.15 872.48L1008.65 871.35L1011.15 870.2L1013.64 869.01L1016.14 867.78L1018.64 866.52L1021.14 865.27L1023.63 864.01L1026.13 862.74L1028.63 861.45L1031.13 860.12L1033.62 858.74L1036.12 857.31L1038.62 855.81L1041.12 854.22L1043.62 852.55L1046.11 850.77L1048.61 848.86L1051.11 846.82L1053.61 844.64L1056.1 842.32L1058.6 839.86L1061.1 837.25L1063.6 834.48L1066.09 831.47L1068.59 828.08L1071.09 824.39L1073.59 820.49L1076.08 816.46L1078.58 812.4L1081.08 808.27L1083.58 804.01L1086.08 799.62L1088.57 795.09L1091.07 790.44L1093.57 785.67L1096.07 780.69L1098.56 775.28L1101.06 769.73L1103.56 764.37L1106.06 759.54L1108.55 754.98L1111.05 750.63L1113.55 746.56L1116.05 742.82L1118.54 739.37L1121.04 736.07L1123.54 733.06L1126.04 730.45L1128.54 728.3L1131.03 726.4L1133.53 724.77L1136.03 723.5L1138.53 722.48L1141.02 721.56L1143.52 720.76L1146.02 720.13L1148.52 719.67L1151.01 719.36L1153.51 719.07L1156.01 718.81L1158.51 718.6L1161 718.43L1163.5 718.33L1166 718.29" stroke="#000" stroke-width="3" fill="none" stroke-linejoin="round" stroke-linecap="butt"/>
<path d="M741.4 954.89L743.9 954.77L746.4 954.61L748.89 954.44L751.39 954.25L753.89 954.03L756.39 953.8L758.88 953.55L761.38 953.28L763.88 952.99L766.38 952.69L768.87 952.37L771.37 952.04L773.87 951.7L776.37 951.34L778.86 950.97L781.36 950.58L783.86 950.19L786.36 949.79L788.86 949.38L791.35 948.96L793.85 948.53L796.35 948.1L798.85 947.66L801.34 947.22L803.84 946.76L806.34 946.27L808.84 945.75L811.33 945.19L813.83 944.61L816.33 943.99L818.83 943.34L821.32 942.67L823.82 941.98L826.32 941.26L828.82 940.52L831.32 939.77L833.81 938.99L836.31 938.2L838.81 937.4L841.31 936.58L843.8 935.76L846.3 934.92L848.8 934.08L851.3 933.23L853.79 932.38L856.29 931.53L858.79 930.68L861.29 929.83L863.78 928.98L866.28 928.12L868.78 927.24L871.28 926.35L873.78 925.44L876.27 924.52L878.77 923.59L881.27 922.64L883.77 921.68L886.26 920.7L888.76 919.71L891.26 918.71L893.76 917.7L896.25 916.68L898.75 915.64L901.25 914.6L903.75 913.55L906.24 912.48L908.74 911.41L911.24 910.33L913.74 909.24L916.24 908.14L918.73 907.03L921.23 905.92L923.73 904.8L926.23 903.65L928.72 902.48L931.22 901.28L933.72 900.05L936.22 898.81L938.71 897.55L941.21 896.27L943.71 894.99L946.21 893.69L948.7 892.36L951.2 891.01L953.7 889.64L956.2 888.27L958.7 886.92L961.19 885.59L963.69 884.27L966.19 882.95L968.69 881.63L971.18 880.32L973.68 879.02L976.18 877.74L978.68 876.48L981.17 875.25L983.67 874.04L986.17 872.88L988.67 871.75L991.16 870.66L993.66 869.58L996.16 868.53L998.66 867.49L1001.16 866.45L1003.65 865.41L1006.15 864.35L1008.65 863.29L1011.15 862.19L1013.64 861.07L1016.14 859.91L1018.64 858.71L1021.14 857.52L1023.63 856.33L1026.13 855.13L1028.63 853.9L1031.13 852.64L1033.62 851.34L1036.12 849.98L1038.62 848.56L1041.12 847.06L1043.62 845.48L1046.11 843.79L1048.61 841.98L1051.11 840.04L1053.61 837.98L1056.1 835.78L1058.6 833.45L1061.1 830.98L1063.6 828.36L1066.09 825.51L1068.59 822.3L1071.09 818.8L1073.59 815.1L1076.08 811.28L1078.58 807.44L1081.08 803.53L1083.58 799.49L1086.08 795.33L1088.57 791.04L1091.07 786.64L1093.57 782.11L1096.07 777.4L1098.56 772.28L1101.06 767.01L1103.56 761.94L1106.06 757.36L1108.55 753.04L1111.05 748.92L1113.55 745.06L1116.05 741.52L1118.54 738.25L1121.04 735.13L1123.54 732.28L1126.04 729.8L1128.54 727.77L1131.03 725.96L1133.53 724.42L1136.03 723.21L1138.53 722.25L1141.02 721.38L1143.52 720.62L1146.02 720.02L1148.52 719.59L1151.01 719.29L1153.51 719.02L1156.01 718.78L1158.51 718.57L1161 718.42L1163.5 718.32L1166 718.28" stroke="#000" stroke-width="3" fill="none" stroke-linejoin="round" stroke-linecap="butt"/>
<path d="M741.4 928.59L743.9 928.47L746.4 928.34L748.89 928.19L751.39 928.01L753.89 927.82L756.39 927.62L758.88 927.39L761.38 927.15L763.88 926.9L766.38 926.63L768.87 926.35L771.37 926.05L773.87 925.74L776.37 925.43L778.86 925.1L781.36 924.76L783.86 924.41L786.36 924.05L788.86 923.68L791.35 923.31L793.85 922.93L796.35 922.55L798.85 922.16L801.34 921.76L803.84 921.36L806.34 920.92L808.84 920.46L811.33 919.96L813.83 919.44L816.33 918.89L818.83 918.32L821.32 917.72L823.82 917.11L826.32 916.47L828.82 915.81L831.32 915.14L833.81 914.45L836.31 913.75L838.81 913.04L841.31 912.31L843.8 911.58L846.3 910.83L848.8 910.09L851.3 909.33L853.79 908.58L856.29 907.82L858.79 907.06L861.29 906.3L863.78 905.55L866.28 904.78L868.78 904.01L871.28 903.21L873.78 902.41L876.27 901.59L878.77 900.76L881.27 899.91L883.77 899.06L886.26 898.19L888.76 897.31L891.26 896.43L893.76 895.53L896.25 894.62L898.75 893.7L901.25 892.77L903.75 891.83L906.24 890.89L908.74 889.93L911.24 888.97L913.74 888L916.24 887.03L918.73 886.04L921.23 885.05L923.73 884.06L926.23 883.04L928.72 882L931.22 880.93L933.72 879.84L936.22 878.73L938.71 877.61L941.21 876.48L943.71 875.34L946.21 874.19L948.7 873L951.2 871.8L953.7 870.58L956.2 869.36L958.7 868.16L961.19 866.99L963.69 865.81L966.19 864.63L968.69 863.46L971.18 862.3L973.68 861.14L976.18 860.01L978.68 858.89L981.17 857.79L983.67 856.72L986.17 855.68L988.67 854.68L991.16 853.71L993.66 852.76L996.16 851.82L998.66 850.89L1001.16 849.97L1003.65 849.04L1006.15 848.11L1008.65 847.16L1011.15 846.19L1013.64 845.19L1016.14 844.16L1018.64 843.09L1021.14 842.03L1023.63 840.98L1026.13 839.91L1028.63 838.82L1031.13 837.7L1033.62 836.54L1036.12 835.33L1038.62 834.07L1041.12 832.74L1043.62 831.33L1046.11 829.83L1048.61 828.22L1051.11 826.5L1053.61 824.66L1056.1 822.71L1058.6 820.64L1061.1 818.44L1063.6 816.11L1066.09 813.58L1068.59 810.72L1071.09 807.61L1073.59 804.33L1076.08 800.93L1078.58 797.51L1081.08 794.04L1083.58 790.45L1086.08 786.75L1088.57 782.94L1091.07 779.02L1093.57 775L1096.07 770.82L1098.56 766.26L1101.06 761.58L1103.56 757.07L1106.06 753L1108.55 749.16L1111.05 745.5L1113.55 742.07L1116.05 738.92L1118.54 736.01L1121.04 733.24L1123.54 730.71L1126.04 728.51L1128.54 726.7L1131.03 725.09L1133.53 723.73L1136.03 722.65L1138.53 721.79L1141.02 721.01L1143.52 720.35L1146.02 719.81L1148.52 719.43L1151.01 719.17L1153.51 718.92L1156.01 718.71L1158.51 718.53L1161 718.39L1163.5 718.3L1166 718.27" stroke="#000" stroke-width="3" fill="none" stroke-linejoin="round" stroke-linecap="butt"/>
<path d="M741.4 849.67L743.9 849.59L746.4 849.51L748.89 849.42L751.39 849.31L753.89 849.19L756.39 849.06L758.88 848.92L761.38 848.77L763.88 848.61L766.38 848.44L768.87 848.27L771.37 848.08L773.87 847.89L776.37 847.69L778.86 847.48L781.36 847.27L783.86 847.05L786.36 846.83L788.86 846.6L791.35 846.37L793.85 846.13L796.35 845.89L798.85 845.65L801.34 845.4L803.84 845.15L806.34 844.88L808.84 844.59L811.33 844.28L813.83 843.95L816.33 843.61L818.83 843.25L821.32 842.88L823.82 842.49L826.32 842.09L828.82 841.68L831.32 841.26L833.81 840.83L836.31 840.39L838.81 839.95L841.31 839.49L843.8 839.04L846.3 838.57L848.8 838.1L851.3 837.63L853.79 837.16L856.29 836.69L858.79 836.21L861.29 835.74L863.78 835.27L866.28 834.79L868.78 834.3L871.28 833.81L873.78 833.3L876.27 832.79L878.77 832.27L881.27 831.75L883.77 831.21L886.26 830.67L888.76 830.12L891.26 829.57L893.76 829L896.25 828.44L898.75 827.86L901.25 827.28L903.75 826.7L906.24 826.1L908.74 825.51L911.24 824.91L913.74 824.3L916.24 823.69L918.73 823.08L921.23 822.46L923.73 821.83L926.23 821.2L928.72 820.55L931.22 819.88L933.72 819.2L936.22 818.51L938.71 817.81L941.21 817.1L943.71 816.39L946.21 815.67L948.7 814.93L951.2 814.17L953.7 813.41L956.2 812.65L958.7 811.9L961.19 811.17L963.69 810.43L966.19 809.7L968.69 808.96L971.18 808.24L973.68 807.51L976.18 806.8L978.68 806.1L981.17 805.42L983.67 804.75L986.17 804.1L988.67 803.48L991.16 802.87L993.66 802.27L996.16 801.69L998.66 801.11L1001.16 800.53L1003.65 799.95L1006.15 799.37L1008.65 798.77L1011.15 798.17L1013.64 797.54L1016.14 796.9L1018.64 796.23L1021.14 795.57L1023.63 794.91L1026.13 794.24L1028.63 793.56L1031.13 792.86L1033.62 792.14L1036.12 791.38L1038.62 790.59L1041.12 789.76L1043.62 788.88L1046.11 787.94L1048.61 786.94L1051.11 785.86L1053.61 784.71L1056.1 783.49L1058.6 782.2L1061.1 780.82L1063.6 779.37L1066.09 777.79L1068.59 776L1071.09 774.06L1073.59 772L1076.08 769.88L1078.58 767.75L1081.08 765.57L1083.58 763.33L1086.08 761.02L1088.57 758.64L1091.07 756.19L1093.57 753.68L1096.07 751.06L1098.56 748.21L1101.06 745.29L1103.56 742.47L1106.06 739.92L1108.55 737.52L1111.05 735.24L1113.55 733.09L1116.05 731.13L1118.54 729.31L1121.04 727.58L1123.54 725.99L1126.04 724.62L1128.54 723.48L1131.03 722.48L1133.53 721.63L1136.03 720.95L1138.53 720.42L1141.02 719.93L1143.52 719.52L1146.02 719.18L1148.52 718.94L1151.01 718.78L1153.51 718.63L1156.01 718.49L1158.51 718.38L1161 718.29L1163.5 718.24L1166 718.22" stroke="#000" stroke-width="3" fill="none" stroke-linejoin="round" stroke-linecap="butt"/>
<rect x="741.4" y="686" width="424.6" height="299.9" fill="none" stroke="#000" stroke-width="2.4"/>
<text font-size="16.64" text-anchor="middle" transform="translate(820 713.8) scale(0.96 1)">T<tspan font-size="58%" dy="0.72em">amb</tspan><tspan dy="-0.42em">=25°C</tspan></text>
<text font-size="16.64" text-anchor="middle" transform="translate(817.5 738.5) scale(0.96 1)">25mm x 25mm</text>
<text font-size="16.64" text-anchor="middle" transform="translate(820.5 758.9) scale(0.96 1)">2oz FR4</text>
<text font-size="16.64" transform="translate(751.6 825.6) scale(0.96 1)">D=0.5</text>
<text font-size="16.64" transform="translate(752.8 903.8) scale(0.96 1)">D=0.2</text>
<text font-size="16.64" transform="translate(1052 893.5) scale(0.96 1)">Single Pulse</text>
<text font-size="16.64" transform="translate(1014.7 922.2) scale(0.96 1)">D=0.05</text>
<text font-size="16.64" transform="translate(962.5 956.5) scale(0.96 1)">D=0.1</text>
<text font-size="16.95" text-anchor="end" transform="translate(734.1 990.5) scale(0.96 1)">0</text>
<text font-size="16.95" text-anchor="end" transform="translate(734.1 947.66) scale(0.96 1)">10</text>
<text font-size="16.95" text-anchor="end" transform="translate(734.1 904.81) scale(0.96 1)">20</text>
<text font-size="16.95" text-anchor="end" transform="translate(734.1 861.97) scale(0.96 1)">30</text>
<text font-size="16.95" text-anchor="end" transform="translate(734.1 819.13) scale(0.96 1)">40</text>
<text font-size="16.95" text-anchor="end" transform="translate(734.1 776.29) scale(0.96 1)">50</text>
<text font-size="16.95" text-anchor="end" transform="translate(734.1 733.44) scale(0.96 1)">60</text>
<text font-size="16.95" text-anchor="end" transform="translate(734.1 690.6) scale(0.96 1)">70</text>
<text font-size="17.26" text-anchor="middle" transform="translate(742.2 1005.1) scale(0.96 1)">100µ</text>
<text font-size="17.26" text-anchor="middle" transform="translate(802.06 1005.1) scale(0.96 1)">1m</text>
<text font-size="17.26" text-anchor="middle" transform="translate(862.71 1005.1) scale(0.96 1)">10m</text>
<text font-size="17.26" text-anchor="middle" transform="translate(923.37 1005.1) scale(0.96 1)">100m</text>
<text font-size="17.26" text-anchor="middle" transform="translate(984.03 1005.1) scale(0.96 1)">1</text>
<text font-size="17.26" text-anchor="middle" transform="translate(1044.69 1005.1) scale(0.96 1)">10</text>
<text font-size="17.26" text-anchor="middle" transform="translate(1105.34 1005.1) scale(0.96 1)">100</text>
<text font-size="17.26" text-anchor="middle" transform="translate(1166 1005.1) scale(0.96 1)">1k</text>
<text font-size="23.71" text-anchor="middle" transform="translate(945.3 1026.3) scale(0.96 1)">Pulse Width (s)</text>
<text font-size="22.7" transform="translate(694.5 986.6) scale(1.04 1) rotate(-90)">Thermal Resistance (°C/W)</text>
<text font-size="22.62" text-anchor="middle" font-weight="bold" transform="translate(952.2 1062.4) scale(0.96 1)">Fig 3. Transient Thermal Impedance</text>
</g>
<g id="fig4">
<path d="M216.36 1132.7L216.36 1432.7M227.03 1132.7L227.03 1432.7M234.61 1132.7L234.61 1432.7M240.49 1132.7L240.49 1432.7M245.29 1132.7L245.29 1432.7M249.35 1132.7L249.35 1432.7M252.87 1132.7L252.87 1432.7M255.97 1132.7L255.97 1432.7M277 1132.7L277 1432.7M287.68 1132.7L287.68 1432.7M295.25 1132.7L295.25 1432.7M301.13 1132.7L301.13 1432.7M305.93 1132.7L305.93 1432.7M309.99 1132.7L309.99 1432.7M313.51 1132.7L313.51 1432.7M316.61 1132.7L316.61 1432.7M337.64 1132.7L337.64 1432.7M348.32 1132.7L348.32 1432.7M355.9 1132.7L355.9 1432.7M361.77 1132.7L361.77 1432.7M366.58 1132.7L366.58 1432.7M370.63 1132.7L370.63 1432.7M374.15 1132.7L374.15 1432.7M377.25 1132.7L377.25 1432.7M398.28 1132.7L398.28 1432.7M408.96 1132.7L408.96 1432.7M416.54 1132.7L416.54 1432.7M422.42 1132.7L422.42 1432.7M427.22 1132.7L427.22 1432.7M431.28 1132.7L431.28 1432.7M434.79 1132.7L434.79 1432.7M437.9 1132.7L437.9 1432.7M458.93 1132.7L458.93 1432.7M469.61 1132.7L469.61 1432.7M477.18 1132.7L477.18 1432.7M483.06 1132.7L483.06 1432.7M487.86 1132.7L487.86 1432.7M491.92 1132.7L491.92 1432.7M495.44 1132.7L495.44 1432.7M498.54 1132.7L498.54 1432.7M519.57 1132.7L519.57 1432.7M530.25 1132.7L530.25 1432.7M537.82 1132.7L537.82 1432.7M543.7 1132.7L543.7 1432.7M548.5 1132.7L548.5 1432.7M552.56 1132.7L552.56 1432.7M556.08 1132.7L556.08 1432.7M559.18 1132.7L559.18 1432.7M580.21 1132.7L580.21 1432.7M590.89 1132.7L590.89 1432.7M598.47 1132.7L598.47 1432.7M604.34 1132.7L604.34 1432.7M609.15 1132.7L609.15 1432.7M613.21 1132.7L613.21 1432.7M616.72 1132.7L616.72 1432.7M619.83 1132.7L619.83 1432.7M198.1 1426.09L622.6 1426.09M198.1 1420.26L622.6 1420.26M198.1 1380.73L622.6 1380.73M198.1 1360.66L622.6 1360.66M198.1 1346.42L622.6 1346.42M198.1 1335.37L622.6 1335.37M198.1 1326.35L622.6 1326.35M198.1 1318.72L622.6 1318.72M198.1 1312.11L622.6 1312.11M198.1 1306.28L622.6 1306.28M198.1 1266.75L622.6 1266.75M198.1 1246.68L622.6 1246.68M198.1 1232.44L622.6 1232.44M198.1 1221.39L622.6 1221.39M198.1 1212.37L622.6 1212.37M198.1 1204.74L622.6 1204.74M198.1 1198.13L622.6 1198.13M198.1 1192.3L622.6 1192.3M198.1 1152.77L622.6 1152.77" stroke="#c4c4c4" stroke-width="1.4" fill="none"/>
<path d="M258.74 1132.7L258.74 1432.7M319.39 1132.7L319.39 1432.7M380.03 1132.7L380.03 1432.7M440.67 1132.7L440.67 1432.7M501.31 1132.7L501.31 1432.7M561.96 1132.7L561.96 1432.7M198.1 1415.04L622.6 1415.04M198.1 1301.06L622.6 1301.06M198.1 1187.08L622.6 1187.08" stroke="#888888" stroke-width="1.8" fill="none"/>
<rect x="493.3" y="1146" width="99.5" height="47.4" fill="#fff"/>
<rect x="482.7" y="1275.2" width="123.3" height="41.1" fill="#fff"/>
<rect x="344" y="1396.8" width="113.3" height="23.2" fill="#fff"/>
<path d="M198.1 1167.8L200.6 1170.15L203.09 1172.51L205.59 1174.87L208.09 1177.25L210.59 1179.63L213.08 1182.01L215.58 1184.4L218.08 1186.8L220.57 1189.2L223.07 1191.61L225.57 1194.03L228.06 1196.45L230.56 1198.87L233.06 1201.3L235.56 1203.74L238.05 1206.17L240.55 1208.62L243.05 1211.07L245.54 1213.52L248.04 1215.97L250.54 1218.43L253.04 1220.9L255.53 1223.37L258.03 1225.84L260.53 1228.35L263.02 1230.97L265.52 1233.64L268.02 1236.3L270.51 1238.89L273.01 1241.34L275.51 1243.59L278.01 1245.62L280.5 1247.53L283 1249.34L285.5 1251.08L287.99 1252.74L290.49 1254.33L292.99 1255.86L295.49 1257.34L297.98 1258.78L300.48 1260.16L302.98 1261.48L305.47 1262.75L307.97 1263.98L310.47 1265.17L312.96 1266.35L315.46 1267.51L317.96 1268.68L320.46 1269.85L322.95 1271.01L325.45 1272.16L327.95 1273.29L330.44 1274.41L332.94 1275.52L335.44 1276.63L337.94 1277.73L340.43 1278.83L342.93 1279.94L345.43 1281.04L347.92 1282.16L350.42 1283.28L352.92 1284.41L355.41 1285.56L357.91 1286.73L360.41 1287.91L362.91 1289.1L365.4 1290.3L367.9 1291.5L370.4 1292.68L372.89 1293.86L375.39 1295.03L377.89 1296.17L380.39 1297.28L382.88 1298.38L385.38 1299.47L387.88 1300.56L390.37 1301.64L392.87 1302.7L395.37 1303.76L397.86 1304.8L400.36 1305.82L402.86 1306.83L405.36 1307.82L407.85 1308.79L410.35 1309.74L412.85 1310.68L415.34 1311.6L417.84 1312.53L420.34 1313.44L422.84 1314.34L425.33 1315.22L427.83 1316.08L430.33 1316.91L432.82 1317.72L435.32 1318.5L437.82 1319.24L440.31 1319.95L442.81 1320.61L445.31 1321.24L447.81 1321.84L450.3 1322.41L452.8 1322.96L455.3 1323.5L457.79 1324.03L460.29 1324.56L462.79 1325.09L465.29 1325.63L467.78 1326.19L470.28 1326.78L472.78 1327.37L475.27 1327.96L477.77 1328.54L480.27 1329.11L482.76 1329.7L485.26 1330.29L487.76 1330.9L490.26 1331.52L492.75 1332.18L495.25 1332.87L497.75 1333.59L500.24 1334.36L502.74 1335.18L505.24 1336.09L507.74 1337.08L510.23 1338.13L512.73 1339.23L515.23 1340.38L517.72 1341.55L520.22 1342.75L522.72 1343.94L525.21 1345.13L527.71 1346.31L530.21 1347.5L532.71 1348.76L535.2 1350.08L537.7 1351.42L540.2 1352.79L542.69 1354.16L545.19 1355.52L547.69 1356.86L550.19 1358.15L552.68 1359.38L555.18 1360.55L557.68 1361.62L560.17 1362.6L562.67 1363.46L565.17 1364.26L567.66 1365.04L570.16 1365.78L572.66 1366.47L575.16 1367.12L577.65 1367.72L580.15 1368.27L582.65 1368.75L585.14 1369.17L587.64 1369.57L590.14 1369.96L592.64 1370.33L595.13 1370.67L597.63 1370.97L600.13 1371.21L602.62 1371.39L605.12 1371.49L607.62 1371.54L610.11 1371.59L612.61 1371.63L615.11 1371.66L617.61 1371.68L620.1 1371.69L622.6 1371.7" stroke="#000" stroke-width="3" fill="none" stroke-linejoin="round" stroke-linecap="butt"/>
<path d="M198.1 1178.6L200.6 1181.18L203.09 1183.74L205.59 1186.28L208.09 1188.8L210.59 1191.3L213.08 1193.78L215.58 1196.25L218.08 1198.7L220.57 1201.13L223.07 1203.55L225.57 1205.95L228.06 1208.34L230.56 1210.71L233.06 1213.06L235.56 1215.4L238.05 1217.73L240.55 1220.04L243.05 1222.34L245.54 1224.63L248.04 1226.9L250.54 1229.17L253.04 1231.42L255.53 1233.66L258.03 1235.89L260.53 1238.12L263.02 1240.35L265.52 1242.57L268.02 1244.75L270.51 1246.87L273.01 1248.92L275.51 1250.88L278.01 1252.73L280.5 1254.52L283 1256.25L285.5 1257.93L287.99 1259.56L290.49 1261.14L292.99 1262.69L295.49 1264.19L297.98 1265.67L300.48 1267.11L302.98 1268.49L305.47 1269.83L307.97 1271.14L310.47 1272.42L312.96 1273.7L315.46 1274.99L317.96 1276.29L320.46 1277.61L322.95 1278.92L325.45 1280.22L327.95 1281.52L330.44 1282.86L332.94 1284.23L335.44 1285.66L337.94 1287.12L340.43 1288.61L342.93 1290.13L345.43 1291.7L347.92 1293.31L350.42 1294.96L352.92 1296.67L355.41 1298.44L357.91 1300.27L360.41 1302.14L362.91 1304.06L365.4 1306.01L367.9 1307.99L370.4 1309.99L372.89 1312L375.39 1314.02L377.89 1316.04L380.39 1318.05L382.88 1320.07L385.38 1322.12L387.88 1324.19L390.37 1326.28L392.87 1328.38L395.37 1330.48L397.86 1332.6L400.36 1334.71L402.86 1336.81L405.36 1338.9L407.85 1340.97L410.35 1343.03L412.85 1345.06L415.34 1347.12L417.84 1349.18L420.34 1351.25L422.84 1353.32L425.33 1355.37L427.83 1357.39L430.33 1359.39L432.82 1361.34L435.32 1363.25L437.82 1365.09L440.31 1366.87L442.81 1368.6L445.31 1370.32L447.81 1372.01L450.3 1373.67L452.8 1375.28L455.3 1376.85L457.79 1378.35L460.29 1379.8L462.79 1381.16L465.29 1382.44L467.78 1383.65L470.28 1384.8L472.78 1385.9L475.27 1386.96L477.77 1387.98L480.27 1388.96L482.76 1389.92L485.26 1390.86L487.76 1391.79L490.26 1392.7L492.75 1393.62L495.25 1394.53L497.75 1395.46L500.24 1396.4L502.74 1397.35L505.24 1398.32L507.74 1399.29L510.23 1400.26L512.73 1401.22L515.23 1402.19L517.72 1403.14L520.22 1404.07L522.72 1404.99L525.21 1405.89L527.71 1406.77L530.21 1407.62L532.71 1408.44L535.2 1409.24L537.7 1410.05L540.2 1410.87L542.69 1411.67L545.19 1412.46L547.69 1413.22L550.19 1413.95L552.68 1414.64L555.18 1415.28L557.68 1415.86L560.17 1416.38L562.67 1416.83L565.17 1417.27L567.66 1417.69L570.16 1418.1L572.66 1418.48L575.16 1418.82L577.65 1419.11L580.15 1419.35L582.65 1419.52L585.14 1419.61L587.64 1419.67L590.14 1419.73L592.64 1419.78L595.13 1419.83L597.63 1419.88L600.13 1419.92L602.62 1419.96L605.12 1419.99L607.62 1420.02L610.11 1420.04L612.61 1420.06L615.11 1420.08L617.61 1420.09L620.1 1420.1L622.6 1420.1" stroke="#000" stroke-width="3" fill="none" stroke-linejoin="round" stroke-linecap="butt"/>
<rect x="198.1" y="1132.7" width="424.5" height="300" fill="none" stroke="#000" stroke-width="2.4"/>
<text font-size="16.64" text-anchor="middle" transform="translate(542 1160.8) scale(0.96 1)">Single Pulse</text>
<text font-size="16.64" text-anchor="middle" transform="translate(541.5 1181.2) scale(0.96 1)">T<tspan font-size="58%" dy="0.72em">amb</tspan><tspan dy="-0.42em">=25°C</tspan></text>
<text font-size="16.64" text-anchor="middle" transform="translate(541.5 1290.2) scale(0.96 1)">25mm x 25mm</text>
<text font-size="16.64" text-anchor="middle" transform="translate(544 1310.6) scale(0.96 1)">2oz FR4</text>
<text font-size="16.64" text-anchor="middle" transform="translate(400.3 1413.6) scale(0.96 1)">MRP 2oz FR4</text>
<text font-size="16.95" text-anchor="end" transform="translate(191.2 1191.68) scale(0.96 1)">100</text>
<text font-size="16.95" text-anchor="end" transform="translate(191.2 1305.66) scale(0.96 1)">10</text>
<text font-size="16.95" text-anchor="end" transform="translate(191.2 1419.64) scale(0.96 1)">1</text>
<text font-size="17.26" text-anchor="middle" transform="translate(198.9 1452.4) scale(0.96 1)">100µ</text>
<text font-size="17.26" text-anchor="middle" transform="translate(258.74 1452.4) scale(0.96 1)">1m</text>
<text font-size="17.26" text-anchor="middle" transform="translate(319.39 1452.4) scale(0.96 1)">10m</text>
<text font-size="17.26" text-anchor="middle" transform="translate(380.03 1452.4) scale(0.96 1)">100m</text>
<text font-size="17.26" text-anchor="middle" transform="translate(440.67 1452.4) scale(0.96 1)">1</text>
<text font-size="17.26" text-anchor="middle" transform="translate(501.31 1452.4) scale(0.96 1)">10</text>
<text font-size="17.26" text-anchor="middle" transform="translate(561.96 1452.4) scale(0.96 1)">100</text>
<text font-size="17.26" text-anchor="middle" transform="translate(622.6 1452.4) scale(0.96 1)">1k</text>
<text font-size="23.71" text-anchor="middle" transform="translate(410.4 1473.6) scale(0.96 1)">Pulse Width (s)</text>
<text font-size="22.8" transform="translate(155.1 1430.2) scale(1.04 1) rotate(-90)">Max Power Dissipation (W)</text>
<text font-size="22.62" text-anchor="middle" font-weight="bold" transform="translate(397.5 1511.3) scale(0.96 1)">Fig 4. Pulse Power Dissipation</text>
</g>
<g id="fig5">
<path d="M802.06 1132.7L802.06 1432.7M862.71 1132.7L862.71 1432.7M923.37 1132.7L923.37 1432.7M984.03 1132.7L984.03 1432.7M1044.69 1132.7L1044.69 1432.7M1105.34 1132.7L1105.34 1432.7M741.4 1372.7L1166 1372.7M741.4 1312.7L1166 1312.7M741.4 1252.7L1166 1252.7M741.4 1192.7L1166 1192.7" stroke="#888888" stroke-width="1.8" fill="none"/>
<rect x="874" y="1140.9" width="118.5" height="41.9" fill="#fff"/>
<rect x="758" y="1281.4" width="110" height="22" fill="#fff"/>
<path d="M741.4 1144.7L802.06 1144.7L1166 1432.7" stroke="#000" stroke-width="3" fill="none" stroke-linejoin="miter" stroke-linecap="butt"/>
<path d="M741.4 1324.7L802.06 1324.7L1166 1432.7" stroke="#000" stroke-width="3" fill="none" stroke-linejoin="miter" stroke-linecap="butt"/>
<rect x="741.4" y="1132.7" width="424.6" height="300" fill="none" stroke="#000" stroke-width="2.4"/>
<text font-size="16.64" text-anchor="middle" transform="translate(932.7 1156.9) scale(0.96 1)">25mm x 25mm</text>
<text font-size="16.64" text-anchor="middle" transform="translate(935.3 1176.7) scale(0.96 1)">2oz FR4</text>
<text font-size="16.64" text-anchor="middle" transform="translate(813.2 1297.9) scale(0.96 1)">MRP 2oz FR4</text>
<text font-size="16.95" text-anchor="end" transform="translate(734.1 1437.3) scale(0.96 1)">0.0</text>
<text font-size="16.95" text-anchor="end" transform="translate(734.1 1377.3) scale(0.96 1)">0.5</text>
<text font-size="16.95" text-anchor="end" transform="translate(734.1 1317.3) scale(0.96 1)">1.0</text>
<text font-size="16.95" text-anchor="end" transform="translate(734.1 1257.3) scale(0.96 1)">1.5</text>
<text font-size="16.95" text-anchor="end" transform="translate(734.1 1197.3) scale(0.96 1)">2.0</text>
<text font-size="16.95" text-anchor="end" transform="translate(734.1 1137.3) scale(0.96 1)">2.5</text>
<text font-size="17.26" text-anchor="middle" transform="translate(741.4 1452.4) scale(0.96 1)">0</text>
<text font-size="17.26" text-anchor="middle" transform="translate(802.06 1452.4) scale(0.96 1)">25</text>
<text font-size="17.26" text-anchor="middle" transform="translate(862.71 1452.4) scale(0.96 1)">50</text>
<text font-size="17.26" text-anchor="middle" transform="translate(923.37 1452.4) scale(0.96 1)">75</text>
<text font-size="17.26" text-anchor="middle" transform="translate(984.03 1452.4) scale(0.96 1)">100</text>
<text font-size="17.26" text-anchor="middle" transform="translate(1044.69 1452.4) scale(0.96 1)">125</text>
<text font-size="17.26" text-anchor="middle" transform="translate(1105.34 1452.4) scale(0.96 1)">150</text>
<text font-size="17.26" text-anchor="middle" transform="translate(1166 1452.4) scale(0.96 1)">175</text>
<text font-size="23.71" text-anchor="middle" transform="translate(939 1474.4) scale(0.96 1)">Temperature (°C)</text>
<text font-size="22.8" transform="translate(696.5 1430.2) scale(1.04 1) rotate(-90)">Max Power Dissipation (W)</text>
<text font-size="22.62" text-anchor="middle" font-weight="bold" transform="translate(939.8 1511.3) scale(0.96 1)">Fig 5. Derating Curve</text>
</g>
</svg>
</body></html>
